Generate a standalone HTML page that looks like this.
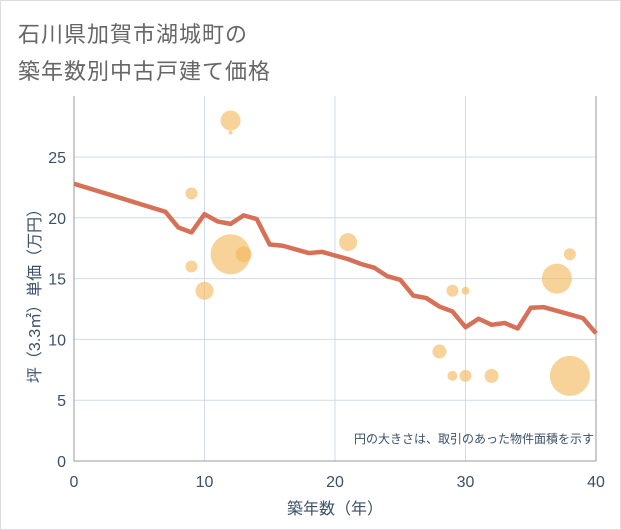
<!DOCTYPE html>
<html><head><meta charset="utf-8"><style>
body{margin:0;background:#fff;}
#wrap{position:relative;width:619px;height:528px;border:1px solid #ddd;background:#fff;font-family:"Liberation Sans","Noto Sans CJK JP",sans-serif;}
.title{position:absolute;left:17px;font-size:22px;color:#666;letter-spacing:1px;}
</style></head><body>
<div id="wrap">
<div class="title" style="top:16px">石川県加賀市湖城町の</div>
<div class="title" style="top:53px">築年数別中古戸建て価格</div>
<svg id="chart" width="621" height="530" style="position:absolute;left:-1px;top:-1px"></svg>
</div>
<script>
const lineYears=[0,7,8,9,10,11,12,13,14,15,16,17,18,19,20,21,22,23,24,25,26,27,28,29,30,31,32,33,34,35,36,37,38,39,40];
const linePrices=[22.8,20.5,19.2,18.8,20.3,19.7,19.5,20.2,19.9,17.8,17.7,17.4,17.1,17.2,16.9,16.6,16.2,15.9,15.2,14.9,13.6,13.4,12.7,12.3,11.0,11.7,11.2,11.35,10.9,12.6,12.65,12.35,12.05,11.75,10.5];
const bubbleYears=[12,12,9,9,10,12,13,21,29,30,28,29,30,32,37,38,38];
const bubblePrices=[28,27,22,16,14,17,17,18,14,14,9,7,7,7,15,17,7];
const bubbleSizes=[10,2,6,6,9,20,8,9,6,4,7,5,6,7,15,6,20];
const xTicks=[0,10,20,30,40];
const yTicks=[0,5,10,15,20,25];
const NS='http://www.w3.org/2000/svg';
const svg=document.getElementById('chart');
const X0=74,X1=596,Y0=461,Y1=96;
const xs=v=>X0+(X1-X0)*v/40;
const ys=v=>Y0-v*12.16;
function mk(t,a){const e=document.createElementNS(NS,t);for(const k in a)e.setAttribute(k,a[k]);svg.appendChild(e);return e;}
// grid
xTicks.forEach(t=>{const l=mk('line',{x1:xs(t),x2:xs(t),y1:Y1,y2:Y0,stroke:'#cfdbe8','stroke-width':1});


const tx=mk('text',{x:xs(t),y:487,'text-anchor':'middle','font-size':16,fill:'#3b5068'});tx.textContent=t;

});
yTicks.forEach(t=>{const l=mk('line',{x1:X0,x2:X1,y1:ys(t),y2:ys(t),stroke:'#cfdbe8','stroke-width':1});


const tx=mk('text',{x:66,y:ys(t)+6,'text-anchor':'end','font-size':16,fill:'#3b5068'});tx.textContent=t;

});
const ax=mk('path',{d:`M${X0} ${Y1}V${Y0}H${X1}V${Y1}`,fill:'none',stroke:'#999','stroke-width':1});


// bubbles
bubbleYears.forEach((yr,i)=>{const c=mk('circle',{cx:xs(yr),cy:ys(bubblePrices[i]),r:bubbleSizes[i],fill:'rgba(242,184,90,0.62)'});

});
// line
const p=mk('polyline',{points:lineYears.map((y,i)=>xs(y)+','+ys(linePrices[i])).join(' '),fill:'none',stroke:'#d4694f','stroke-width':4.5,'stroke-linejoin':'round','stroke-opacity':0.95});


// labels
const xl=mk('text',{x:335,y:514,'text-anchor':'middle','font-size':16,fill:'#3b5068'});xl.textContent='築年数（年）';


const yl=mk('text',{x:0,y:0,'text-anchor':'middle','font-size':16,fill:'#3b5068',transform:'translate(40,292) rotate(-90)'});yl.textContent='坪（3.3㎡）単価（万円）';


const note=mk('text',{x:594,y:443,'text-anchor':'end','font-size':12,fill:'#3b5068'});note.textContent='円の大きさは、取引のあった物件面積を示す';


</script>
</body></html>
